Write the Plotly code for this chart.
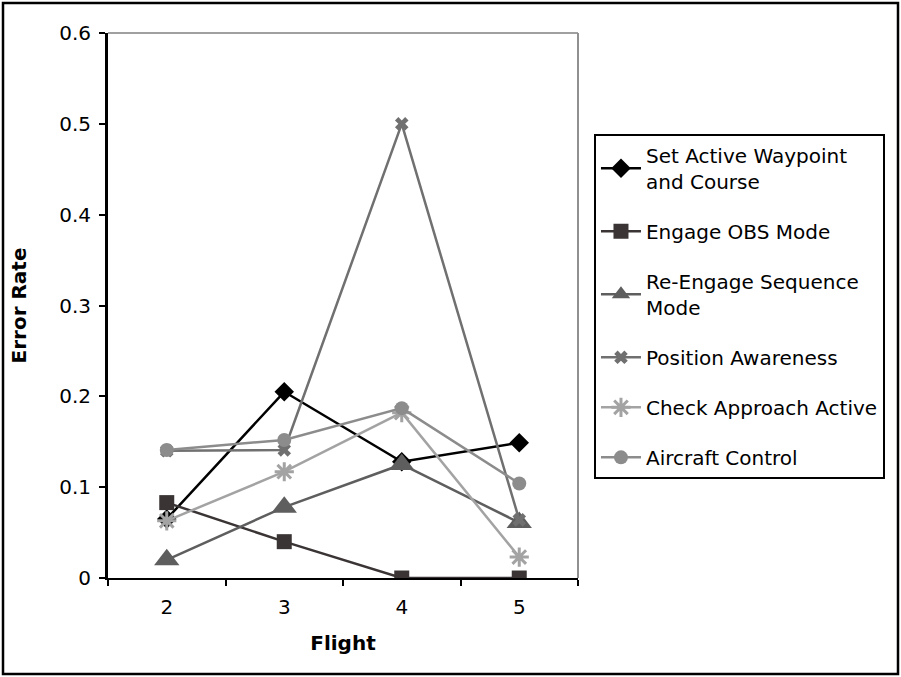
import plotly.graph_objects as go

flights = ["2", "3", "4", "5"]
series_names = [
    "Set Active Waypoint<br>and Course",
    "Engage OBS Mode",
    "Re-Engage Sequence<br>Mode",
    "Position Awareness",
    "Check Approach Active",
    "Aircraft Control",
]
set_active = [0.065, 0.205, 0.128, 0.149]
engage_obs = [0.083, 0.040, 0.0, 0.0]
re_engage = [0.020, 0.078, 0.125, 0.061]
position_awareness = [0.140, 0.141, 0.500, 0.064]
check_approach = [0.063, 0.117, 0.182, 0.023]
aircraft_control = [0.141, 0.152, 0.187, 0.104]

values = [set_active, engage_obs, re_engage, position_awareness, check_approach, aircraft_control]
colors = ["#000000", "#3a3435", "#5e5e5e", "#707070", "#a3a3a3", "#8c8c8c"]
symbols = ["diamond", "square", "triangle-up", "x", "asterisk-open", "circle"]
sizes = [15, 15, 22, 12, 16, 14]

fig = go.Figure()
for i, (name, vals) in enumerate(zip(series_names, values)):
    marker = dict(symbol=symbols[i], size=sizes[i], color=colors[i])
    if symbols[i] == "asterisk-open":
        marker["line"] = dict(color=colors[i], width=3)
    fig.add_trace(go.Scatter(
        x=flights, y=vals, name=name, mode="lines+markers",
        line=dict(color=colors[i], width=2.5),
        marker=marker,
        legendgroup=str(i),
    ))

font_family = "DejaVu Sans, Verdana, sans-serif"
fig.update_layout(
    width=901, height=677,
    margin=dict(l=108, r=323, t=33, b=99),
    paper_bgcolor="white", plot_bgcolor="white",
    font=dict(family=font_family, size=20, color="#000000"),
    showlegend=True,
    legend=dict(
        x=1.034, y=0.815, xanchor="left", yanchor="top",
        bordercolor="#000000", borderwidth=2,
        font=dict(size=20, family=font_family),
        tracegroupgap=21,
        itemwidth=40,
    ),
    xaxis=dict(
        type="category", range=[-0.5, 3.5],
        showline=True, linecolor="#000000", linewidth=2,
        ticks="outside", tickson="boundaries", ticklen=6, tickwidth=2, tickcolor="#000000",
        showgrid=False, zeroline=False,
        ticklabelstandoff=10,
        title=dict(text="<b>Flight</b>", font=dict(size=20), standoff=18),
        tickfont=dict(size=20),
    ),
    yaxis=dict(
        range=[0, 0.6], dtick=0.1,
        showline=True, linecolor="#000000", linewidth=3,
        ticks="outside", ticklen=6, tickwidth=2, tickcolor="#000000",
        showgrid=False, zeroline=False,
        ticklabelstandoff=4,
        title=dict(text="<b>Error Rate</b>", font=dict(size=20), standoff=28),
        tickfont=dict(size=20),
        tickformat="~g",
    ),
)

# plot area top and right borders (grey)
fig.add_shape(type="line", xref="paper", yref="paper", x0=0, x1=1, y0=1, y1=1,
              line=dict(color="#808080", width=1.5))
fig.add_shape(type="line", xref="paper", yref="paper", x0=1, x1=1, y0=0, y1=1,
              line=dict(color="#909090", width=2))
# outer chart frame
fig.add_shape(type="rect", xref="paper", yref="paper",
              x0=(3 - 108) / 470, x1=(898 - 108) / 470,
              y0=(578 - 674) / 545, y1=(578 - 3) / 545,
              line=dict(color="#000000", width=2.5))

fig.write_html("out.html")
